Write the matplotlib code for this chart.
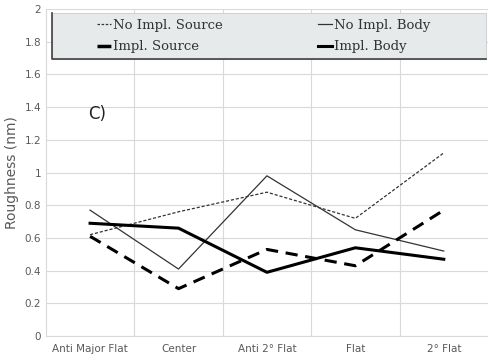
import numpy as np
import matplotlib.pyplot as plt
from matplotlib.lines import Line2D
from matplotlib.patches import Rectangle

categories = ['Anti Major Flat', 'Center', 'Anti 2° Flat', 'Flat', '2° Flat']
no_impl_source = [0.62, 0.76, 0.88, 0.72, 1.12]
no_impl_body = [0.77, 0.41, 0.98, 0.65, 0.52]
impl_source = [0.61, 0.29, 0.53, 0.43, 0.77]
impl_body = [0.69, 0.66, 0.39, 0.54, 0.47]

fig = plt.figure(figsize=(4.88, 3.61), dpi=100)
ax = fig.add_axes([0.094, 0.069, 0.906, 0.906])

x = np.arange(len(categories))
ax.plot(x, no_impl_source, color='#333333', lw=0.9, ls=(0, (2.5, 1.5)))
ax.plot(x, no_impl_body, color='#333333', lw=0.9)
ax.plot(x, impl_source, color='black', lw=2.2, ls=(0, (4, 2.5)))
ax.plot(x, impl_body, color='black', lw=2.2)

ax.set_xlim(-0.5, 4.5)
ax.set_ylim(0, 2)
ax.set_yticks(np.arange(0, 2.01, 0.2))
ax.set_yticklabels(['0', '0.2', '0.4', '0.6', '0.8', '1', '1.2', '1.4', '1.6', '1.8', '2'])
ax.set_xticks(x)
ax.set_xticklabels(categories)
ax.set_xticks(np.arange(0.5, 4, 1), minor=True)
ax.tick_params(which='both', length=0, labelsize=7.5, labelcolor='#595959')
ax.tick_params(axis='x', pad=6)
ax.grid(axis='y', which='major', color='#d9d9d9', lw=0.8)
ax.grid(axis='x', which='minor', color='#d9d9d9', lw=0.8)
ax.set_axisbelow(True)
for s in ['top', 'right']:
    ax.spines[s].set_visible(False)
ax.spines['left'].set_color('#d9d9d9')
ax.spines['bottom'].set_color('#d9d9d9')
ax.set_ylabel('Roughness (nm)', fontsize=10, color='#595959', labelpad=4)

# legend box (light top/right, dark left/bottom edge)
x0, y0, x1, y1 = 0.014, 0.848, 0.995, 0.988
ax.add_patch(Rectangle((x0, y0), x1 - x0, y1 - y0, transform=ax.transAxes,
                       facecolor='#e6eaea', edgecolor='#d0d4d4', lw=0.8, zorder=3))
ax.plot([x0, x0, x1], [y1, y0, y0], transform=ax.transAxes, color='#404040',
        lw=1.2, zorder=4, clip_on=False)

handles = [
    Line2D([], [], color='#333333', lw=0.9, ls=(0, (2, 1.3))),
    Line2D([], [], color='black', lw=2.5, ls=(0, (4, 10))),
    Line2D([], [], color='#333333', lw=0.9),
    Line2D([], [], color='black', lw=2.2),
]
labels = ['No Impl. Source', 'Impl. Source', 'No Impl. Body', 'Impl. Body']
leg = ax.legend(handles, labels, ncol=2, loc='center left',
                bbox_to_anchor=(0.115, 0.918), borderaxespad=0, borderpad=0,
                handlelength=1.1, handletextpad=0.15, columnspacing=7.2,
                prop={'family': 'DejaVu Serif', 'size': 9.5},
                frameon=False, labelspacing=0.65)
leg.set_zorder(5)
for t in leg.get_texts():
    t.set_color('#333333')

ax.text(-0.02, 1.36, 'C)', fontsize=12, family='DejaVu Sans', color='#222222',
        va='center')

fig.savefig('out.png', dpi=100)
